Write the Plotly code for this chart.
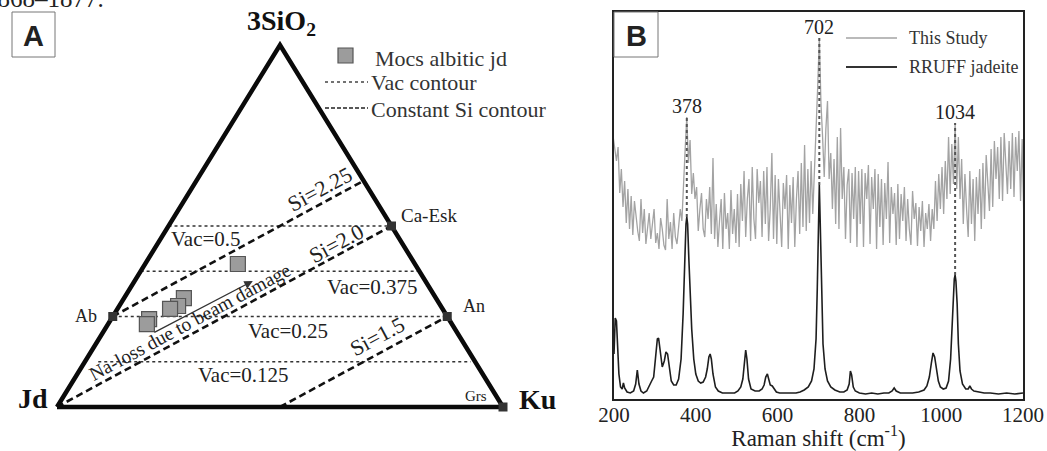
import plotly.graph_objects as go

W, H = 1047, 451
SERIF = "Liberation Serif, Times New Roman, serif"
SANS = "Liberation Sans, Arial, sans-serif"

# ---------------- Panel A data (ternary fractions: Jd, Ku, 3SiO2) ----------------
apex_jd = [1.0, 0.0, 0.0]
apex_ku = [0.0, 1.0, 0.0]
apex_si = [0.0, 0.0, 1.0]

end_members = ["Ab", "Ca-Esk", "An", "Grs"]
em_ku = [0.0, 0.5, 0.75, 1.0]
em_si = [0.25, 0.5, 0.25, 0.0]

vac_values = [0.5, 0.375, 0.25, 0.125]
vac_labels = ["Vac=0.5", "Vac=0.375", "Vac=0.25", "Vac=0.125"]
vac_left_ku = [0.0, 0.0, 0.0, 0.03]
vac_right_jd = [0.0, 0.0, 0.0, 0.01]

si_labels = ["Si=2.25", "Si=2.0", "Si=1.5"]
si_start_ku = [0.0, 0.0, 0.5]
si_start_si = [0.25, 0.0, 0.0]
si_end_ku = [0.375, 0.5, 0.75]
si_end_si = [0.625, 0.5, 0.25]

mocs_ku = [0.208, 0.134, 0.132, 0.118, 0.085, 0.087]
mocs_si = [0.395, 0.301, 0.279, 0.271, 0.243, 0.229]

arrow_ku = [0.113, 0.265]
arrow_si = [0.204, 0.348]

# ---------------- Panel B data (Raman shift, cm-1; relative intensity) ----------------
rruff_x = [200, 203, 206, 209, 212, 216, 220, 223, 226, 232, 240, 248, 253, 257, 261, 266, 272, 280,
           287, 292, 297, 302, 306, 309, 313, 318, 323, 327, 331, 335, 340, 346, 352, 358, 364, 369,
           373, 376, 378, 380, 383, 386, 390, 395, 400, 406, 412, 418, 424, 428, 432, 435, 438, 442,
           448, 455, 465, 475, 485, 495, 503, 510, 515, 519, 522, 525, 529, 535, 545, 555, 562, 567,
           571, 575, 578, 582, 587, 591, 597, 605, 615, 625, 635, 645, 655, 665, 675, 683, 689, 694,
           697, 700, 702, 704, 707, 711, 716, 722, 730, 740, 752, 762, 770, 775, 778, 781, 785, 790,
           800, 815, 830, 845, 860, 872, 880, 885, 890, 900, 915, 930, 945, 958, 965, 971, 976, 980,
           984, 988, 993, 998, 1005, 1012, 1018, 1023, 1027, 1030, 1032, 1034, 1036, 1039, 1042, 1046,
           1052, 1060, 1066, 1070, 1074, 1080, 1090, 1105, 1120, 1140, 1160, 1180, 1200]
rruff_y = [45, 81, 78, 50, 25, 12, 10, 16, 11, 7, 6, 8, 15, 29, 15, 8, 6, 8,
           13, 18, 22, 40, 60, 61, 45, 32, 38, 47, 45, 30, 18, 14, 14, 20, 40, 85,
           140, 175, 182, 175, 140, 110, 70, 40, 25, 18, 16, 17, 22, 30, 42, 45, 40, 25,
           12, 8, 6, 6, 6, 6, 8, 12, 20, 38, 49, 40, 20, 10, 8, 8, 10, 14,
           22, 25, 20, 14, 13, 10, 7, 6, 6, 6, 6, 6, 7, 9, 12, 18, 30, 60,
           110, 180, 214, 180, 110, 55, 30, 18, 12, 9, 7, 7, 9, 15, 28, 24, 12, 8,
           6, 5, 6, 5, 6, 6, 8, 11, 8, 6, 6, 6, 7, 9, 13, 22, 36, 46,
           42, 30, 18, 12, 10, 11, 18, 40, 75, 105, 120, 124, 118, 95, 55, 28,
           15, 10, 10, 13, 10, 8, 7, 6, 6, 5, 6, 5, 6]

study_x = list(range(198, 1203, 4))
study_y = [
    262, 248, 238, 252, 206, 230, 192, 218, 176, 210, 170, 203, 164, 198, 182, 168, 158, 200, 166, 190, 155, 172, 186, 160, 176,
    190, 156, 166, 150, 181, 170, 154, 149, 200, 160, 177, 150, 186, 162, 155, 172, 190, 178, 222, 250, 282, 236, 259, 205, 226,
    200, 212, 168, 190, 206, 170, 162, 200, 180, 212, 165, 241, 160, 195, 152, 178, 200, 150, 206, 170, 186, 150, 209, 165, 190,
    156, 205, 152, 215, 178, 228, 162, 200, 220, 158, 232, 180, 160, 230, 196, 218, 162, 228, 175, 232, 158, 190, 246, 160, 224,
    155, 220, 180, 152, 216, 190, 224, 150, 214, 176, 222, 152, 200, 228, 165, 236, 172, 254, 168, 230, 176, 238, 185, 225, 262,
    312, 361, 296, 262, 222, 270, 298, 220, 246, 190, 240, 175, 262, 170, 271, 200, 232, 160, 214, 230, 156, 226, 180, 232, 152,
    228, 175, 230, 152, 226, 200, 234, 155, 222, 190, 230, 150, 225, 172, 220, 154, 216, 180, 237, 156, 212, 185, 206, 154, 215,
    160, 205, 178, 212, 158, 200, 170, 154, 208, 180, 196, 153, 192, 168, 198, 152, 186, 170, 195, 158, 190, 170, 218, 178, 225,
    190, 232, 185, 238, 200, 262, 205, 255, 215, 276, 210, 262, 200, 240, 175, 225, 190, 162, 228, 175, 220, 158, 222, 185, 230,
    170, 236, 180, 244, 210, 188, 250, 192, 258, 220, 252, 200, 262, 198, 266, 230, 205, 258, 210, 266, 202, 262, 228, 268, 198,
    260, 180,
]

peak_marks = [378, 702, 1034]
x_ticks = [200, 400, 600, 800, 1000, 1200]

# ---------------- geometry (pixel layout) ----------------
JD_PX, KU_PX, BASE_PY, APEX_PY = 57.0, 503.0, 407.0, 45.0
A_DOM = 0.55
B_LEFT, B_RIGHT, B_TOP, B_BOT = 614, 1023, 12, 399


def cart(ku, si):
    return ku + si / 2.0, si


def px(x):
    return x / W


def py(y):
    return 1 - y / H


tw = KU_PX - JD_PX
th = BASE_PY - APEX_PY
ax_range_x = [(0 - JD_PX) / tw, (A_DOM * W - JD_PX) / tw]
ax_range_y = [(BASE_PY - H) / th, BASE_PY / th]

fig = go.Figure()

# --- Panel A: contours ---
for v, lk, rj in zip(vac_values, vac_left_ku, vac_right_jd):
    xl, yl = cart(lk, v)
    xr, yr = cart(1 - v - rj, v)
    fig.add_trace(go.Scatter(x=[xl, xr], y=[yl, yr], mode="lines", xaxis="x2", yaxis="y2",
                             line=dict(color="#333", width=1.7, dash="dot"), hoverinfo="skip",
                             showlegend=False))
for sk, ss, ek, es in zip(si_start_ku, si_start_si, si_end_ku, si_end_si):
    x0, y0 = cart(sk, ss)
    x1, y1 = cart(ek, es)
    fig.add_trace(go.Scatter(x=[x0, x1], y=[y0, y1], mode="lines", xaxis="x2", yaxis="y2",
                             line=dict(color="#111", width=2.6, dash="7px,4px"), hoverinfo="skip",
                             showlegend=False))

# triangle
tx, ty = [], []
for k, s in zip(apex_ku + [apex_ku[0]], apex_si + [apex_si[0]]):
    cx, cy = cart(k, s)
    tx.append(cx)
    ty.append(cy)
fig.add_trace(go.Scatter(x=tx, y=ty, mode="lines", xaxis="x2", yaxis="y2",
                         line=dict(color="#0a0a0a", width=4.5), hoverinfo="skip", showlegend=False))

# end-member squares
emx, emy = zip(*[cart(k, s) for k, s in zip(em_ku, em_si)])
fig.add_trace(go.Scatter(x=list(emx), y=list(emy), mode="markers", xaxis="x2", yaxis="y2",
                         marker=dict(symbol="square", size=9, color="#333"), hoverinfo="skip",
                         showlegend=False))

# Mocs samples (drawn back to front)
mx, my = zip(*[cart(k, s) for k, s in zip(mocs_ku, mocs_si)])
fig.add_trace(go.Scatter(x=list(mx), y=list(my), mode="markers", xaxis="x2", yaxis="y2",
                         marker=dict(symbol="square", size=15, color="#9c9c9c",
                                     line=dict(color="#555", width=1.2)),
                         hoverinfo="skip", showlegend=False))

# --- Panel B spectra ---
fig.add_trace(go.Scatter(x=study_x, y=study_y, mode="lines", xaxis="x", yaxis="y",
                         line=dict(color="#a3a3a3", width=1.3), hoverinfo="skip", showlegend=False))
fig.add_trace(go.Scatter(x=rruff_x, y=rruff_y, mode="lines", xaxis="x", yaxis="y",
                         line=dict(color="#1e1e1e", width=1.6), hoverinfo="skip", showlegend=False))

study_map = dict(zip(study_x, study_y))
rruff_map = dict(zip(rruff_x, rruff_y))
for p in peak_marks:
    fig.add_trace(go.Scatter(x=[p, p], y=[rruff_map[p], study_map[p]], mode="lines",
                             xaxis="x", yaxis="y",
                             line=dict(color="#555", width=2, dash="dot"), hoverinfo="skip",
                             showlegend=False))

ann = []
shapes = []

# peak labels
for p in peak_marks:
    ann.append(dict(x=p, y=study_map[p], xref="x", yref="y", text=str(p), showarrow=False,
                    xanchor="center", yanchor="bottom", yshift=-2,
                    font=dict(family=SERIF, size=20, color="#222")))


def atext(text, x, y, size, angle=0, bold=False, family=SERIF, xa="center", color="#222"):
    t = f"<b>{text}</b>" if bold else text
    ann.append(dict(x=px(x), y=py(y), xref="paper", yref="paper", text=t, showarrow=False,
                    xanchor=xa, yanchor="middle", textangle=angle,
                    font=dict(family=family, size=size, color=color)))


atext("3SiO<sub>2</sub>", 281, 22, 28, bold=True, color="#111")
atext("Jd", 33, 398, 28, bold=True, color="#111")
atext("Ku", 537, 399, 28, bold=True, color="#111")
atext("Ab", 86, 316, 18)
atext("Ca-Esk", 429, 215, 19)
atext("An", 474, 306, 18)
atext("Grs", 476, 396, 15)
vac_pos = [(206, 239), (372, 287), (288, 331), (243, 375)]
for lab, (x, y) in zip(vac_labels, vac_pos):
    atext(lab, x, y, 21)
si_pos = [(319, 189), (336, 243), (377, 336)]
for lab, (x, y) in zip(si_labels, si_pos):
    atext(lab, x, y, 22, angle=-28.3)
atext("Na-loss due to beam damage", 189, 322, 19.5, angle=-28.3)
atext("Mocs albitic jd", 373, 58, 22, xa="left", color="#333")
atext("Vac contour", 369, 82, 22, xa="left", color="#333")
atext("Constant Si contour", 369, 109, 22, xa="left", color="#333")
atext("1868–1877.", 106, -2, 25, xa="right")

# arrow (Na-loss direction)
a0 = cart(arrow_ku[0], arrow_si[0])
a1 = cart(arrow_ku[1], arrow_si[1])
ann.append(dict(x=a1[0], y=a1[1], ax=a0[0], ay=a0[1], xref="x2", yref="y2", axref="x2", ayref="y2",
                text="", showarrow=True, arrowhead=2, arrowsize=1.3, arrowwidth=1.3,
                arrowcolor="#333"))

# legend A samples
shapes.append(dict(type="rect", xref="paper", yref="paper", x0=px(338), x1=px(353), y0=py(63), y1=py(48),
                   fillcolor="#9c9c9c", line=dict(color="#555", width=1.2)))
shapes.append(dict(type="line", xref="paper", yref="paper", x0=px(325), x1=px(368), y0=py(82), y1=py(82),
                   line=dict(color="#444", width=1.5, dash="dot")))
shapes.append(dict(type="line", xref="paper", yref="paper", x0=px(325), x1=px(368), y0=py(108), y1=py(108),
                   line=dict(color="#222", width=1.5, dash="4px,2px")))

# panel label boxes
for lab, (x0, y0, x1, y1) in [("A", (12, 12, 55, 57)), ("B", (614, 12, 658, 57))]:
    shapes.append(dict(type="rect", xref="paper", yref="paper", x0=px(x0), x1=px(x1), y0=py(y1), y1=py(y0),
                       fillcolor="white", line=dict(color="#777", width=1)))
    ann.append(dict(x=px((x0 + x1) / 2), y=py((y0 + y1) / 2 + 1), xref="paper", yref="paper",
                    text=f"<b>{lab}</b>", showarrow=False, xanchor="center", yanchor="middle",
                    font=dict(family=SANS, size=29, color="#222")))

# legend B
shapes.append(dict(type="line", xref="paper", yref="paper", x0=px(846), x1=px(897), y0=py(38), y1=py(38),
                   line=dict(color="#a3a3a3", width=1.5)))
shapes.append(dict(type="line", xref="paper", yref="paper", x0=px(846), x1=px(897), y0=py(67), y1=py(67),
                   line=dict(color="#333", width=2)))
ann.append(dict(x=px(907), y=py(38), xref="paper", yref="paper", text="This Study", showarrow=False,
                xanchor="left", yanchor="middle", font=dict(family=SERIF, size=18, color="#333")))
ann.append(dict(x=px(907), y=py(67), xref="paper", yref="paper", text="RRUFF jadeite", showarrow=False,
                xanchor="left", yanchor="middle", font=dict(family=SERIF, size=18, color="#333")))

fig.update_layout(
    width=W, height=H, margin=dict(l=0, r=0, t=0, b=0, autoexpand=False),
    paper_bgcolor="white", plot_bgcolor="rgba(0,0,0,0)",
    showlegend=False,
    xaxis=dict(domain=[px(B_LEFT), px(B_RIGHT)], range=[200, 1200], tickvals=x_ticks,
               automargin=False, ticklabelstandoff=-4,
               ticks="", showgrid=False, zeroline=False, showline=True, mirror=True,
               linecolor="#222", linewidth=1.5,
               tickfont=dict(family=SERIF, size=21, color="#222"),
               title=dict(text="Raman shift (cm<sup>-1</sup>)", standoff=8,
                          font=dict(family=SERIF, size=23, color="#222"))),
    yaxis=dict(domain=[py(B_BOT), py(B_TOP)], range=[0, B_BOT - B_TOP], showticklabels=False,
               automargin=False,
               ticks="", showgrid=False, zeroline=False, showline=True, mirror=True,
               linecolor="#222", linewidth=1.5),
    xaxis2=dict(domain=[0, A_DOM], range=ax_range_x, visible=False, anchor="y2", automargin=False),
    yaxis2=dict(domain=[0, 1], range=ax_range_y, visible=False, anchor="x2", automargin=False),
    annotations=ann, shapes=shapes,
)

fig.write_html(
    "out.html",
    config={"responsive": False, "displayModeBar": False},
    post_script="document.body.style.margin='0px';document.body.style.overflow='hidden';",
)
